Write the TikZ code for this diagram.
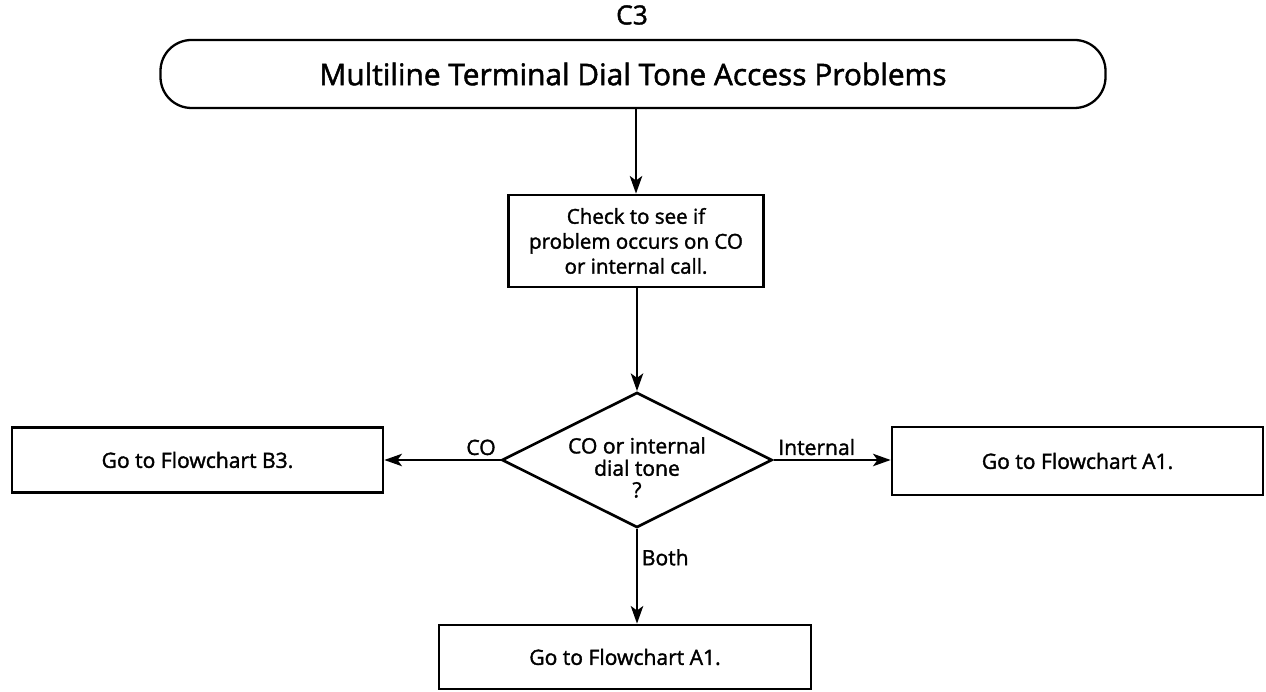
\documentclass[tikz,border=0pt]{standalone}
\usepackage{fontspec}
\setmainfont{Open Sans}[UprightFeatures={FakeBold=1.6}]
\usetikzlibrary{arrows.meta, shapes.geometric, positioning}

\begin{document}
\begin{tikzpicture}[
  banner/.style={rectangle, draw=black, rounded corners=0.62cm, line width=1.3pt,
                 minimum width=18.9cm, minimum height=1.36cm, font=\fontsize{17}{20}\selectfont},
  stepbox/.style={rectangle, draw=black, line width=1.5pt, align=center,
                  minimum width=#1, minimum height=1.3cm, inner sep=2pt,
                  font=\fontsize{12}{14.5}\selectfont},
  choice/.style={diamond, draw=black, line width=1.5pt, align=center, aspect=2,
                 minimum width=5.36cm, minimum height=2.66cm, inner sep=0pt,
                 font=\fontsize{12}{12}\selectfont},
  arr/.style={-{Stealth[length=10pt, width=7pt, inset=2.5pt]}, line width=1.5pt},
  lbl/.style={font=\fontsize{12}{14}\selectfont, inner sep=2pt}
]
\useasboundingbox (0,0) rectangle (25.32,-13.84);

% ---- header ----
\node[font=\fontsize{15}{18}\selectfont] (tag) at (12.64,-0.3) {C3};
\node[banner] (top) at (12.66,-1.48) {Multiline Terminal Dial Tone Access Problems};

% ---- check + decision ----
\node[stepbox=5.1cm, minimum height=1.84cm, font=\fontsize{11.7}{14.2}\selectfont] (check)
  at (12.72,-4.82) {Check to see if\\problem occurs on CO\\or internal call.};
\node[choice] (dec) at (12.74,-9.2)
  {\raisebox{-6pt}[\height][\depth]{\begin{tabular}{@{}c@{}}CO or internal\\dial tone\\?\end{tabular}}};
\draw[arr] (top.south -| check.north) -- (check.north);
\draw[arr] (check.south -| dec.north) -- (dec.north);

% ---- outcomes ----
\node[stepbox=7.42cm] (b3)  at (3.95,-9.2)   {Go to Flowchart B3.};
\node[stepbox=7.42cm, minimum height=1.36cm] (a1r) at (21.55,-9.22) {Go to Flowchart A1.};
\node[stepbox=7.44cm, minimum height=1.28cm] (a1b) at (12.5,-13.14) {Go to Flowchart A1.};
\draw[arr] (dec.west)  -- (b3.east)  node[lbl, pos=0, anchor=south east] {CO};
\draw[arr] (dec.east)  -- (a1r.west |- dec.east) node[lbl, pos=0, anchor=south west] {Internal};
\draw[arr] (dec.south) -- (a1b.north -| dec.south) node[lbl, pos=0.3, anchor=west] {Both};

\end{tikzpicture}
\end{document}
